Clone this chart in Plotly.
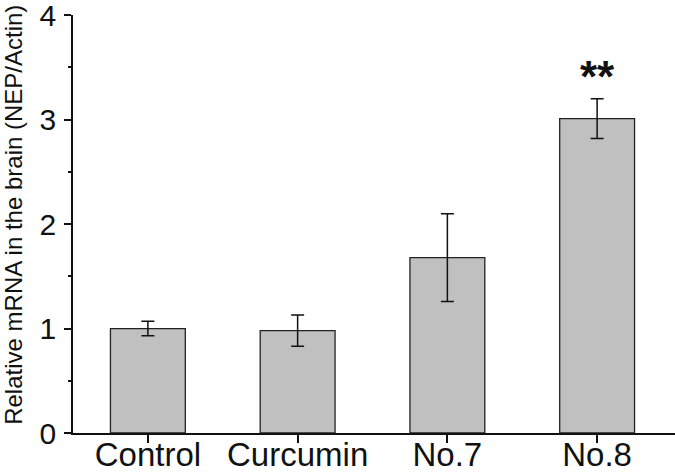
import plotly.graph_objects as go

categories = ["Control", "Curcumin", "No.7", "No.8"]
values = [1.00, 0.98, 1.68, 3.01]
errors = [0.07, 0.15, 0.42, 0.19]
sig_labels = ["", "", "", "**"]
y_ticks = [0, 1, 2, 3, 4]
y_title = "Relative mRNA in the brain (NEP/Actin)"

fig = go.Figure()
fig.add_trace(go.Bar(
    x=categories, y=values, width=0.5,
    marker=dict(color="#c0c0c0", line=dict(color="#222222", width=1.3)),
    error_y=dict(type="data", array=errors, visible=True, color="#111111",
                 thickness=1.5, width=6.5),
))

for c, v, e, s in zip(categories, values, errors, sig_labels):
    if s:
        fig.add_annotation(x=c, y=v + e, text="<b>" + s + "</b>", showarrow=False,
                           yanchor="bottom", yshift=-4,
                           font=dict(family="Liberation Sans, Arial", size=44, color="#111111"))

fig.add_annotation(xref="paper", yref="paper", x=-0.098, y=0.522, text=y_title,
                   textangle=-90, showarrow=False, xanchor="center", yanchor="middle",
                   font=dict(family="Liberation Sans, Arial", size=24, color="#111111"))

fig.update_layout(
    width=675, height=476,
    margin=dict(l=73, r=0, t=15, b=43),
    plot_bgcolor="white", paper_bgcolor="white",
    showlegend=False,
    font=dict(family="Liberation Sans, Arial", color="#111111"),
)
fig.update_xaxes(
    range=[-0.5, 3.52], showline=True, linecolor="#111111", linewidth=1.5,
    ticks="outside", ticklen=8, tickwidth=1.5, tickcolor="#111111",
    tickfont=dict(size=33), automargin=False, showgrid=False,
    ticklabelstandoff=-16, ticklabeloverflow="allow",
)
fig.update_yaxes(
    range=[0, 4.002], tickvals=y_ticks, showline=True, linecolor="#111111", linewidth=1.5,
    ticks="outside", ticklen=7, tickwidth=1.5, tickcolor="#111111",
    minor=dict(dtick=0.5, ticks="outside", ticklen=3, tickwidth=1.5, tickcolor="#111111", showgrid=False),
    tickfont=dict(size=30), automargin=False, showgrid=False, zeroline=False,
    ticklabeloverflow="allow", ticklabelstandoff=2,
)

fig.write_html("out.html", config={"displayModeBar": False},
               post_script="document.body.style.margin='0px';")
